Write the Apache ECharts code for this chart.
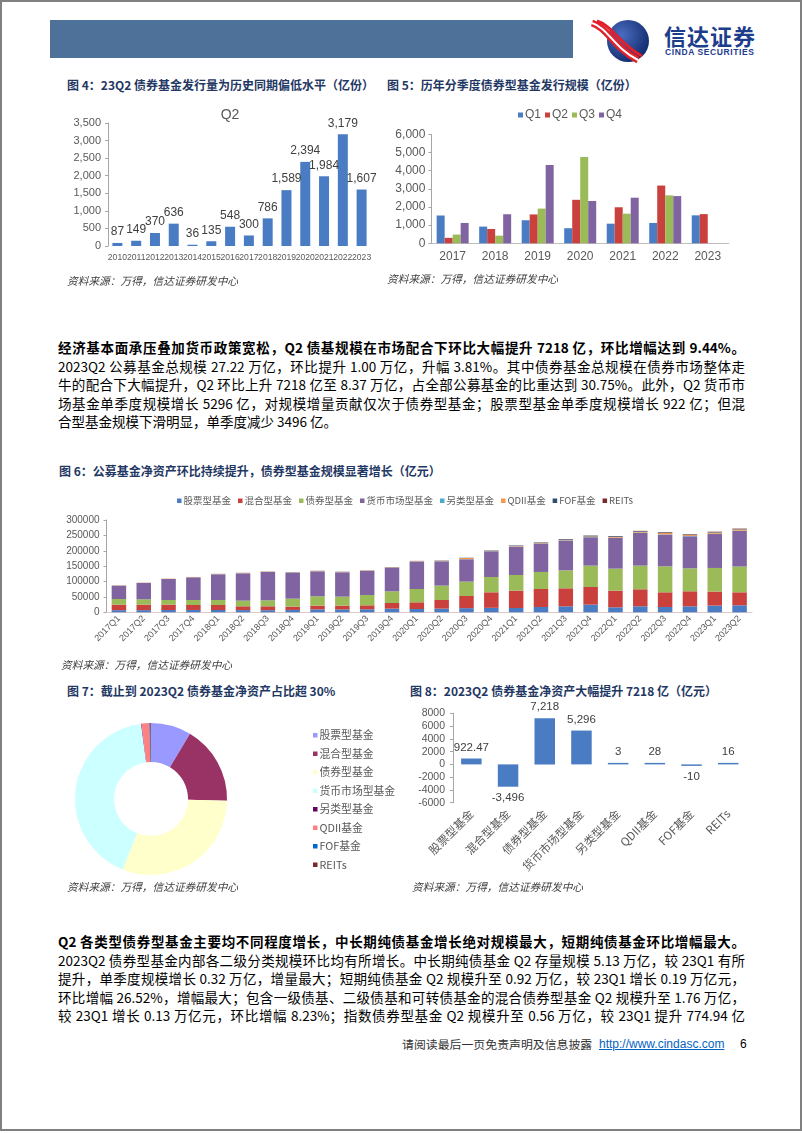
<!DOCTYPE html>
<html><head><meta charset="utf-8">
<script src="https://cdn.jsdelivr.net/npm/echarts@6/dist/echarts.min.js"></script>
<style>
body{margin:0;width:802px;height:1133px;position:relative;background:#fff;font-family:"Noto Sans CJK SC",sans-serif;overflow:hidden}
.frame{position:absolute;left:0;top:0;width:798px;height:1127px;border:2px solid #808080}
.ttl{position:absolute;font-weight:bold;color:#1f3864;font-size:12px;line-height:16px;white-space:nowrap}
.src{position:absolute;font-style:italic;color:#404040;font-size:10.7px;line-height:14px;white-space:nowrap}
.ln{position:absolute;left:58px;width:687px;font-size:13.5px;line-height:18px;height:18px;text-align:justify;text-align-last:justify;color:#000}
.ln.b{font-weight:bold}
.ln.l{text-align:left;text-align-last:left}
.chart{position:absolute}
</style></head>
<body>
<div class="frame"></div>
<div style="position:absolute;left:50px;top:20px;width:523px;height:38px;background:#4e7199"></div>
<svg style="position:absolute;left:586px;top:18px" width="70" height="46" viewBox="0 0 70 46">
 <defs><radialGradient id="lg" cx="0.35" cy="0.35" r="0.8"><stop offset="0" stop-color="#4a6cc0"/><stop offset="1" stop-color="#0b2263"/></radialGradient></defs>
 <circle cx="42" cy="23" r="21" fill="url(#lg)"/>
 <path d="M6 5 C 22 10, 28 30, 52 42" stroke="#e0202a" stroke-width="7" fill="none"/>
 <path d="M6 5 C 22 10, 28 30, 52 42" stroke="#ffffff" stroke-width="2" fill="none"/>
 <path d="M11 3 C 27 8, 33 26, 56 38" stroke="#e0202a" stroke-width="3" fill="none"/>
</svg>
<div style="position:absolute;left:664px;top:22px;font-size:22px;line-height:26px;font-weight:bold;color:#1c3c8c;letter-spacing:1px;white-space:nowrap">信达证券</div>
<div style="position:absolute;left:665px;top:47px;font-size:8.5px;line-height:10px;font-weight:bold;color:#1c3c8c;font-family:'Liberation Sans',Arial,sans-serif;letter-spacing:0.6px;white-space:nowrap">CINDA SECURITIES</div>

<div class="ttl" style="left:67px;top:77px">图 4：23Q2 债券基金发行量为历史同期偏低水平（亿份）</div>
<div class="ttl" style="left:387px;top:77px">图 5：历年分季度债券型基金发行规模（亿份）</div>
<div id="c4" class="chart" style="left:50px;top:95px;width:330px;height:180px"></div>
<div id="c5" class="chart" style="left:380px;top:95px;width:380px;height:180px"></div>
<div class="src" style="left:67px;top:274px">资料来源：万得，信达证券研发中心</div>
<div class="src" style="left:387px;top:272px">资料来源：万得，信达证券研发中心</div>

<div class="ln b" style="top:338px">经济基本面承压叠加货币政策宽松，Q2 债基规模在市场配合下环比大幅提升 7218 亿，环比增幅达到 9.44%。</div>
<div class="ln" style="top:356.5px">2023Q2 公募基金总规模 27.22 万亿，环比提升 1.00 万亿，升幅 3.81%。其中债券基金总规模在债券市场整体走</div>
<div class="ln" style="top:375px">牛的配合下大幅提升，Q2 环比上升 7218 亿至 8.37 万亿，占全部公募基金的比重达到 30.75%。此外，Q2 货币市</div>
<div class="ln" style="top:393.5px">场基金单季度规模增长 5296 亿，对规模增量贡献仅次于债券型基金；股票型基金单季度规模增长 922 亿；但混</div>
<div class="ln l" style="top:412px">合型基金规模下滑明显，单季度减少 3496 亿。</div>

<div class="ttl" style="left:59px;top:463px">图 6：公募基金净资产环比持续提升，债券型基金规模显著增长（亿元）</div>
<div id="c6" class="chart" style="left:50px;top:485px;width:710px;height:175px"></div>
<div class="src" style="left:61px;top:658px">资料来源：万得，信达证券研发中心</div>

<div class="ttl" style="left:67px;top:683px">图 7：截止到 2023Q2 债券基金净资产占比超 30%</div>
<div class="ttl" style="left:410px;top:683px">图 8：2023Q2 债券基金净资产大幅提升 7218 亿（亿元）</div>
<div id="c7" class="chart" style="left:50px;top:705px;width:350px;height:175px"></div>
<div id="c8" class="chart" style="left:400px;top:695px;width:360px;height:185px"></div>
<div class="src" style="left:67px;top:880px">资料来源：万得，信达证券研发中心</div>
<div class="src" style="left:412px;top:880px">资料来源：万得，信达证券研发中心</div>

<div class="ln b" style="top:932px">Q2 各类型债券型基金主要均不同程度增长，中长期纯债基金增长绝对规模最大，短期纯债基金环比增幅最大。</div>
<div class="ln" style="top:950.5px">2023Q2 债券型基金内部各二级分类规模环比均有所增长。中长期纯债基金 Q2 存量规模 5.13 万亿，较 23Q1 有所</div>
<div class="ln" style="top:969px">提升，单季度规模增长 0.32 万亿，增量最大；短期纯债基金 Q2 规模升至 0.92 万亿，较 23Q1 增长 0.19 万亿元，</div>
<div class="ln" style="top:987.5px">环比增幅 26.52%，增幅最大；包含一级债基、二级债基和可转债基金的混合债券型基金 Q2 规模升至 1.76 万亿，</div>
<div class="ln" style="top:1006px">较 23Q1 增长 0.13 万亿元，环比增幅 8.23%；指数债券型基金 Q2 规模升至 0.56 万亿，较 23Q1 提升 774.94 亿</div>

<div style="position:absolute;left:402px;top:1036px;font-size:11.9px;line-height:16px;color:#333;white-space:nowrap">请阅读最后一页免责声明及信息披露</div>
<div style="position:absolute;left:599px;top:1036px;font-size:12px;line-height:16px;color:#0563c1;text-decoration:underline;font-family:'Liberation Sans',Arial,sans-serif;white-space:nowrap">http://www.cindasc.com</div>
<div style="position:absolute;left:740px;top:1036px;font-size:12px;line-height:16px;color:#000;font-family:'Liberation Sans',Arial,sans-serif">6</div>

<script>
// ---- Fig 4 data ----
const fig4Years = ['2010','2011','2012','2013','2014','2015','2016','2017','2018','2019','2020','2021','2022','2023'];
const fig4Q2 = [87,149,370,636,36,135,548,300,786,1589,2394,1984,3179,1607];
// ---- Fig 5 data ----
const fig5Years = ['2017','2018','2019','2020','2021','2022','2023'];
const fig5Q1 = [1530,920,1270,830,1080,1120,1540];
const fig5Q2 = [300,786,1589,2394,1984,3179,1607];
const fig5Q3 = [480,420,1910,4750,1630,2640,null];
const fig5Q4 = [1120,1600,4310,2330,2510,2600,null];
// ---- Fig 6 data ----
const fig6Quarters = ['2017Q1','2017Q2','2017Q3','2017Q4','2018Q1','2018Q2','2018Q3','2018Q4','2019Q1','2019Q2','2019Q3','2019Q4','2020Q1','2020Q2','2020Q3','2020Q4','2021Q1','2021Q2','2021Q3','2021Q4','2022Q1','2022Q2','2022Q3','2022Q4','2023Q1','2023Q2'];
const fig6Names = ['股票型基金','混合型基金','债券型基金','货币市场型基金','另类型基金','QDII基金','FOF基金','REITs'];
const fig6Stock = [7000,7000,7500,7600,7400,7200,6800,7700,9500,9200,9800,12000,10800,12000,13500,14500,14000,17300,19500,24900,16200,19500,17300,19500,21800,22700];
const fig6Mixed = [17900,18000,17500,16200,16400,12300,12700,10700,12200,12500,12900,18300,21700,28000,39500,50500,56400,58500,58500,57400,54200,55300,47700,48800,45800,42300];
const fig6Bond = [18400,17300,15000,16200,16200,18400,19500,26000,30300,29200,33600,37900,43300,46700,46700,49800,50900,55300,58500,69400,71500,76900,84500,74700,76500,83700];
const fig6Money = [43400,53000,68300,73700,83500,88800,92000,84500,81200,79100,78000,77000,88900,79100,72600,83500,92100,91000,96500,92100,99700,106200,102900,104000,110300,115600];
const fig6Alt = [300,300,300,300,300,300,300,300,300,300,300,300,400,500,600,700,800,900,1000,1100,1100,1100,1000,1000,1100,1100];
const fig6QDII = [900,900,900,900,900,1000,1000,1000,1100,1100,1200,1200,1300,1400,3500,1500,1600,1700,1800,2000,2300,2700,4200,3000,3900,4100];
const fig6FOF = [0,0,0,20,300,400,400,500,500,600,600,600,700,800,900,1000,1500,2000,2100,2200,2200,2100,1900,1800,1700,1700];
const fig6REITs = [0,0,0,0,0,0,0,0,0,0,0,0,0,0,0,0,0,300,400,500,800,900,1000,1000,900,900];
// ---- Fig 7 data ----
const fig7Names = ['股票型基金','混合型基金','债券型基金','货币市场型基金','另类型基金','QDII基金','FOF基金','REITs'];
const fig7Values = [23300,45700,83700,113700,300,4500,500,400];
// ---- Fig 8 data ----
const fig8Names = ['股票型基金','混合型基金','债券型基金','货币市场型基金','另类型基金','QDII基金','FOF基金','REITs'];
const fig8Values = [922.47,-3496,7218,5296,3,28,-10,16];

const NUM = "'Liberation Sans', Arial, sans-serif";
const CJK = "'Noto Sans CJK SC', sans-serif";
const GRAY = '#595959';
const AX = '#a6a6a6';
const comma = v => Number(v).toLocaleString('en-US',{maximumFractionDigits:2});
const plain = v => String(v);

// Fig 4
echarts.init(document.getElementById('c4')).setOption({
  animation:false,
  title:{text:'Q2',left:175,top:8,textAlign:'center',textStyle:{fontSize:14,fontWeight:'normal',color:GRAY,fontFamily:NUM}},
  grid:{left:58,right:9,top:28,bottom:29},
  xAxis:{type:'category',data:fig4Years,axisLine:{show:false},axisTick:{show:false},
    axisLabel:{interval:0,fontSize:8.6,color:GRAY,fontFamily:NUM,margin:7}},
  yAxis:{type:'value',min:0,max:3500,interval:500,splitLine:{show:false},
    axisLine:{show:true,lineStyle:{color:AX}},axisTick:{show:true,length:3,lineStyle:{color:AX}},
    axisLabel:{fontSize:11,color:GRAY,fontFamily:NUM,margin:7,formatter:comma}},
  series:[{type:'bar',data:fig4Q2,barWidth:10,itemStyle:{color:'#4a7cc4'},
    label:{show:true,position:'top',distance:5,fontSize:12,color:'#404040',fontFamily:NUM,formatter:p=>comma(p.value)}}]
});

// Fig 5
const q5 = [['Q1',fig5Q1,'#4a7cc4'],['Q2',fig5Q2,'#c9403c'],['Q3',fig5Q3,'#9bbb59'],['Q4',fig5Q4,'#8064a2']];
echarts.init(document.getElementById('c5')).setOption({
  animation:false,
  legend:{top:9,left:'center',itemWidth:5,itemHeight:5,itemGap:4,icon:'rect',
    textStyle:{fontSize:12,color:GRAY,fontFamily:NUM,padding:[0,0,0,-3]},data:q5.map(q=>q[0])},
  grid:{left:51.4,right:31,top:39.3,bottom:31.7},
  xAxis:{type:'category',data:fig5Years,axisLine:{show:true,lineStyle:{color:'#bfbfbf'}},axisTick:{show:false},
    axisLabel:{fontSize:12,color:GRAY,fontFamily:NUM,margin:7}},
  yAxis:{type:'value',min:0,max:6000,interval:1000,splitLine:{show:false},
    axisLine:{show:true,lineStyle:{color:AX}},axisTick:{show:true,length:3,lineStyle:{color:AX}},
    axisLabel:{fontSize:12,color:GRAY,fontFamily:NUM,margin:6,formatter:comma}},
  series:q5.map(q=>({name:q[0],type:'bar',data:q[1],barWidth:8,barGap:'0%',itemStyle:{color:q[2]}}))
});

// Fig 6
const c6cols = ['#4a7cc4','#c9403c','#9bbb59','#8064a2','#4bacc6','#f79646','#2c4d75','#772c2a'];
const c6data = [fig6Stock,fig6Mixed,fig6Bond,fig6Money,fig6Alt,fig6QDII,fig6FOF,fig6REITs];
echarts.init(document.getElementById('c6')).setOption({
  animation:false,
  legend:{top:6,left:'center',itemWidth:4.5,itemHeight:4.5,itemGap:7,icon:'rect',
    textStyle:{fontSize:9.5,color:GRAY,fontFamily:CJK,padding:[0,0,0,-3]},data:fig6Names},
  grid:{left:56.5,right:8,top:35,bottom:47.7},
  xAxis:{type:'category',data:fig6Quarters,axisLine:{show:true,lineStyle:{color:'#e0c8c8'}},axisTick:{show:false},
    axisLabel:{interval:0,rotate:45,fontSize:9,color:GRAY,fontFamily:NUM,margin:5}},
  yAxis:{type:'value',min:0,max:300000,interval:50000,splitLine:{show:false},
    axisLine:{show:true,lineStyle:{color:AX}},axisTick:{show:true,length:3,lineStyle:{color:AX}},
    axisLabel:{fontSize:10,color:GRAY,fontFamily:NUM,margin:7,formatter:plain}},
  series:fig6Names.map((n,i)=>({name:n,type:'bar',stack:'all',data:c6data[i],barWidth:14.5,itemStyle:{color:c6cols[i]}}))
});

// Fig 7
const c7cols = ['#9999ff','#993366','#ffffcc','#ccffff','#660066','#ff8080','#0066cc','#7a2a2a'];
echarts.init(document.getElementById('c7')).setOption({
  animation:false,
  color:c7cols,
  legend:{orient:'vertical',left:258,top:19,itemWidth:4.5,itemHeight:4.5,itemGap:6,icon:'rect',
    textStyle:{fontSize:10.8,lineHeight:12.5,color:GRAY,fontFamily:CJK,padding:[0,0,0,-3]},data:fig7Names},
  series:[{type:'pie',radius:[37,76],center:[101,94],startAngle:90,clockwise:true,label:{show:false},labelLine:{show:false},
    itemStyle:{borderWidth:0},data:fig7Names.map((n,i)=>({name:n,value:fig7Values[i]}))}]
});

// Fig 8
echarts.init(document.getElementById('c8')).setOption({
  animation:false,
  grid:{left:53,right:13.4,top:18.3,bottom:77.3},
  xAxis:{type:'category',data:fig8Names,position:'bottom',axisLine:{show:false,onZero:false},axisTick:{show:false},
    axisLabel:{interval:0,rotate:45,fontSize:11.5,color:GRAY,fontFamily:CJK,margin:9}},
  yAxis:{type:'value',min:-6000,max:8000,interval:2000,splitLine:{show:false},
    axisLine:{show:true,lineStyle:{color:AX}},axisTick:{show:true,length:3,lineStyle:{color:AX}},
    axisLabel:{fontSize:10.5,color:GRAY,fontFamily:NUM,margin:8,formatter:plain}},
  series:[{type:'bar',barWidth:20.5,barMinHeight:1.5,itemStyle:{color:'#4a7cc4'},
    data:fig8Values.map(v=>({value:v,label:{position:v<0?'bottom':'top'}})),
    label:{show:true,distance:5,fontSize:11.5,color:'#404040',fontFamily:NUM,formatter:p=>comma(p.value)}}]
});
</script>
</body></html>
